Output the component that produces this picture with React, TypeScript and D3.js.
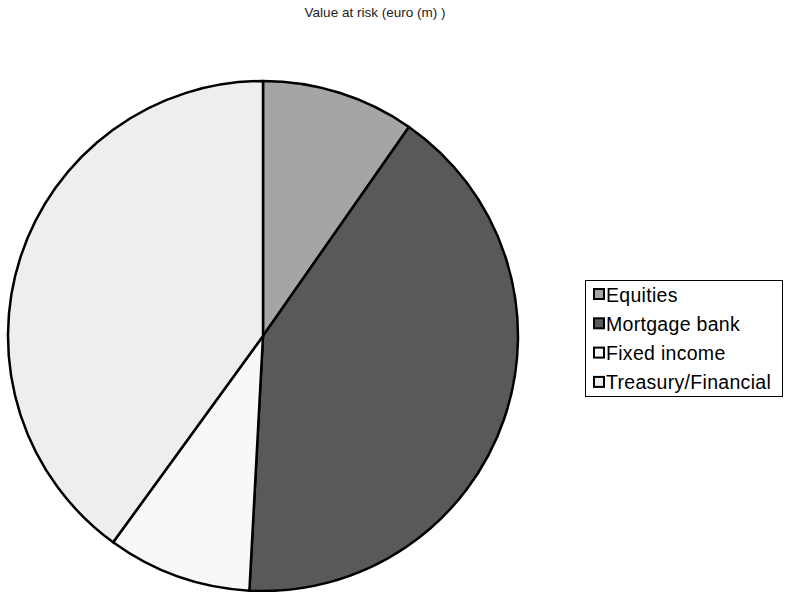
import React from "react";
import * as d3 from "d3";

const categories = ["Equities", "Mortgage bank", "Fixed income", "Treasury/Financial"];
const values = [9.7, 41.15, 9.15, 40.0];
const colors = ["#a5a5a5", "#595959", "#f8f8f8", "#eeeeee"];
const title = "Value at risk (euro (m) )";

export default function App() {
  const W = 785, H = 592;
  const cx = 263, cy = 336, r = 255;
  const pie = d3.pie<number>().sort(null).value((d) => d)(values);
  const arc = d3.arc<d3.PieArcDatum<number>>().innerRadius(0).outerRadius(r);
  return (
    <svg width={W} height={H} style={{ position: "absolute", left: 0, top: 0 }}
      fontFamily="'Liberation Sans', Arial, sans-serif">
      <rect width={W} height={H} fill="#fff" />
      <text x={375} y={17} textAnchor="middle" fontSize={13.5} fill="#222">{title}</text>
      <g transform={`translate(${cx},${cy})`}>
        {pie.map((p, i) => (
          <path key={i} d={arc(p) || ""} fill={colors[i]} stroke="#000" strokeWidth={2.5} strokeLinejoin="round" />
        ))}
      </g>
      <rect x={585.5} y={280.5} width={197} height={116} fill="#fff" stroke="#000" strokeWidth={1} />
      {categories.map((c, i) => (
        <g key={c} transform={`translate(594,${289 + i * 29.3})`}>
          <rect x={0} y={0} width={10} height={10} fill={colors[i]} stroke="#000" strokeWidth={2} />
          <text x={12} y={12.5} fontSize={19.5} letterSpacing={0.3} fill="#000">{c}</text>
        </g>
      ))}
    </svg>
  );
}
